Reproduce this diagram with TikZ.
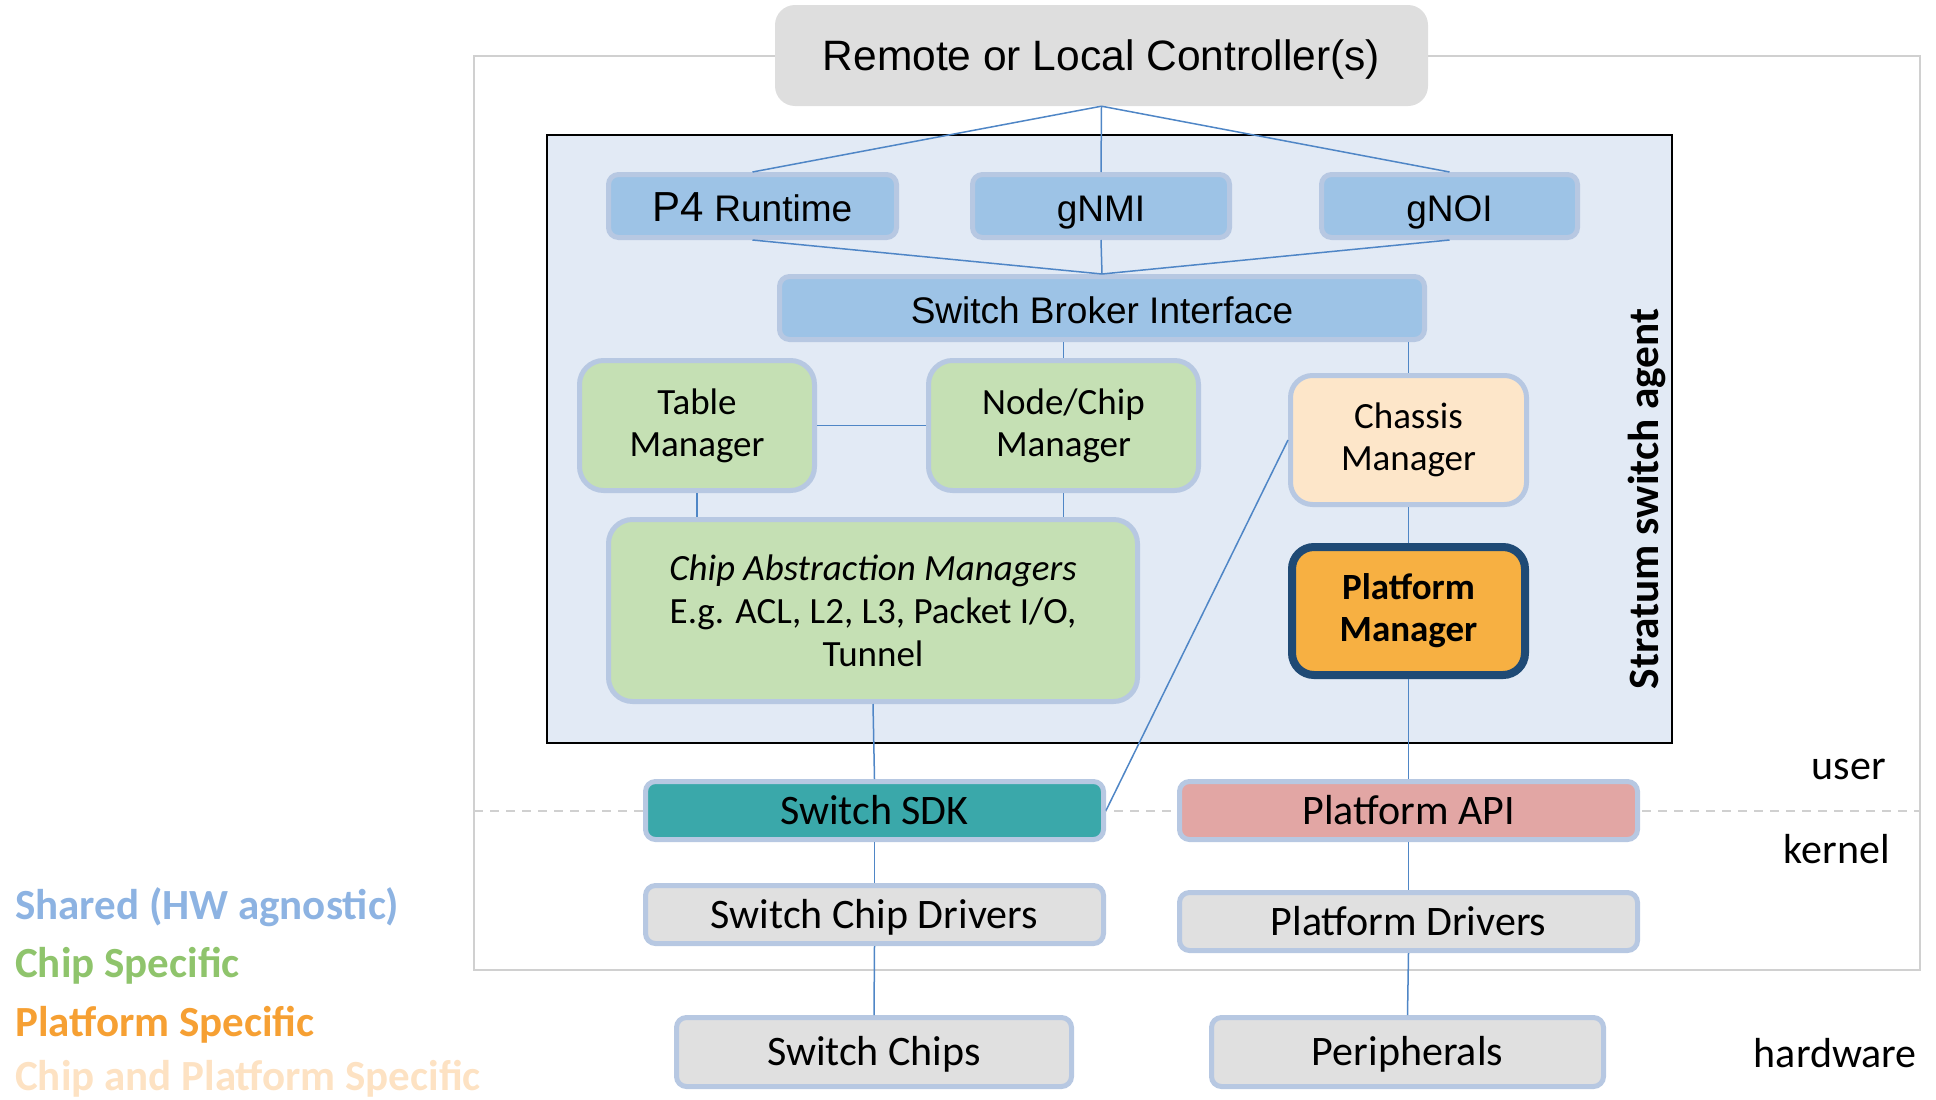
\documentclass[tikz,border=0pt]{standalone}
\usepackage{fontspec}
\setmainfont{Carlito}
\newfontfamily\arialfont{Liberation Sans}
\definecolor{agentbg}{HTML}{E2EAF5}
\definecolor{boxrim}{HTML}{B7C8E2}
\definecolor{blueface}{HTML}{9DC3E6}
\definecolor{greenface}{HTML}{C5E0B4}
\definecolor{peachface}{HTML}{FDE6C9}
\definecolor{orangeface}{HTML}{F7B042}
\definecolor{navyrim}{HTML}{1F4A75}
\definecolor{tealface}{HTML}{3AA8AA}
\definecolor{pinkface}{HTML}{E2A6A4}
\definecolor{grayface}{HTML}{E0E0E0}
\definecolor{ctrlface}{HTML}{DEDEDE}
\definecolor{linkblue}{HTML}{4F86C6}
\definecolor{frame}{HTML}{D0D0D0}
\definecolor{legblue}{HTML}{8DB3E2}
\definecolor{leggreen}{HTML}{8FC46C}
\definecolor{legorange}{HTML}{F6A033}
\definecolor{legpeach}{HTML}{FDE2C3}
\tikzset{
	strut_big/.style = {
		execute at begin node={\rule[-10.5pt]{0pt}{48pt}}
	},
	strut_mid/.style = {
		execute at begin node={\rule[-9.25pt]{0pt}{49pt}}
	},
	strut_two/.style = {
		execute at begin node={\rule{0pt}{40pt}}
	},
	box/.style = {
		align=center,
		inner sep=0pt,
		rounded corners=10pt,
		draw=boxrim,
		line width=5pt,
		text=black,
		font=\fontsize{37}{42}\selectfont
	},
	node_blue/.style = {
		box,
		strut_mid,
		fill=blueface,
		font=\arialfont\fontsize{37}{42}\selectfont
	},
	node_green/.style = {
		box,
		fill=greenface,
		rounded corners=24pt
	},
	node_peach/.style = {
		box,
		strut_two,
		fill=peachface,
		rounded corners=22pt
	},
	node_orange/.style = {
		box,
		execute at begin node={\rule{0pt}{47pt}},
		fill=orangeface,
		draw=navyrim,
		line width=8pt,
		rounded corners=22pt,
		font=\bfseries\fontsize{37}{42}\selectfont
	},
	node_low/.style = {
		box,
		strut_big,
		fill=grayface,
		font=\fontsize{42}{50}\selectfont
	},
	link/.style = {
		draw=linkblue,
		line width=1.5pt
	},
	legend/.style = {
		anchor=base west,
		inner sep=0pt,
		font=\bfseries\fontsize{43}{50}\selectfont
	},
	layer/.style = {
		anchor=base east,
		inner sep=0pt,
		font=\fontsize{42}{50}\selectfont
	},
}

\begin{document}
\begin{tikzpicture}[x=1pt,y=-1pt]
\useasboundingbox (0,0) rectangle (1936,1100);
% frame and user/kernel split
\draw[frame, line width=2.5pt] (474,56) rectangle (1920,970);
\draw[frame, line width=2pt, dash pattern=on 9pt off 7pt] (474,811) -- (1920,811);

\node [draw=black, line width=2.5pt, fill=agentbg, minimum width=1125pt, minimum height=608pt, inner sep=0pt] (agent) at (1109.5,439) {};
\node [fill=ctrlface, rounded corners=20pt, minimum width=653pt, minimum height=101pt, inner sep=0pt, font=\arialfont\fontsize{42.5}{50}\selectfont, execute at begin node={\rule[-10pt]{0pt}{50pt}}] (ctrl) at (1101.5,55.5) {Remote or Local Controller(s)};

% agent contents
\node [node_blue, minimum width=288pt, minimum height=63pt] (p4) at (752.5,206) {{\fontsize{42}{50}\selectfont P4} Runtime};
\node [node_blue, minimum width=257pt, minimum height=63pt] (gnmi) at (1101,206) {gNMI};
\node [node_blue, minimum width=256pt, minimum height=63pt] (gnoi) at (1449.5,206) {gNOI};
\node [node_blue, minimum width=645pt, minimum height=63pt] (broker) at (1102,308) {Switch Broker Interface};
\node [node_green, strut_two, minimum width=235pt, minimum height=130pt] (table) at (697,425.5) {Table\\Manager};
\node [node_green, strut_two, minimum width=270pt, minimum height=130pt] (nodechip) at (1063.5,425.5) {Node/Chip\\Manager};
\node [node_peach, minimum width=236pt, minimum height=129pt] (chassis) at (1408.5,440) {Chassis\\Manager};
\node [node_orange, minimum width=233pt, minimum height=128pt] (platmgr) at (1408.5,611) {Platform\\Manager};
\node [node_green, minimum width=529pt, minimum height=182pt, font=\fontsize{37}{43}\selectfont, execute at begin node={\rule{0pt}{30pt}}] (chipabs) at (873,610.5) {\itshape Chip Abstraction Managers\\E.g. ACL, L2, L3, Packet I/O,\\Tunnel};
\node [rotate=90, inner sep=0pt, font=\bfseries\fontsize{43.3}{50}\selectfont] (agentname) at (1647,499) {Stratum switch agent};

% below the agent
\node [node_low, fill=tealface, minimum width=458pt, minimum height=58pt] (sdk) at (874.5,810.5) {Switch SDK};
\node [node_low, fill=pinkface, minimum width=458pt, minimum height=58pt] (papi) at (1408.5,810.5) {Platform API};
\node [node_low, minimum width=458pt, minimum height=58pt] (chipdrv) at (874.5,914.5) {Switch Chip Drivers};
\node [node_low, minimum width=458pt, minimum height=58pt] (platdrv) at (1408.5,921.5) {Platform Drivers};
\node [node_low, minimum width=395pt, minimum height=69pt] (chips) at (874,1052) {Switch Chips};
\node [node_low, minimum width=392pt, minimum height=69pt] (periph) at (1407.5,1052) {Peripherals};

% links
\draw[link] (ctrl.south) -- (p4.north);
\draw[link] (ctrl.south) -- (gnmi.north);
\draw[link] (ctrl.south) -- (gnoi.north);
\draw[link] (p4.south) -- (broker.north);
\draw[link] (gnmi.south) -- (broker.north);
\draw[link] (gnoi.south) -- (broker.north);
\draw[link] (nodechip.north |- broker.south) -- (nodechip.north);
\draw[link] (chassis.north |- broker.south) -- (chassis.north);
\draw[link] (table.east) -- (nodechip.west);
\draw[link] (table.south) -- (table.south |- chipabs.north);
\draw[link] (nodechip.south) -- (nodechip.south |- chipabs.north);
\draw[link] (chassis.south) -- (platmgr.north);
\draw[link] (chassis.west) -- (sdk.east);
\draw[link] (chipabs.south) -- (sdk.north);
\draw[link] (platmgr.south) -- (papi.north);
\draw[link] (sdk.south) -- (chipdrv.north);
\draw[link] (chipdrv.south) -- (chips.north);
\draw[link] (papi.south) -- (platdrv.north);
\draw[link] (platdrv.south) -- (periph.north);

% layer names
\node [layer] (user) at (1886,779) {user};
\node [layer] (kernel) at (1890,863) {kernel};
\node [layer] (hw) at (1917,1067) {hardware};

% legend
\node [legend, text=legblue] (leg1) at (15,919.5) {Shared (HW agnostic)};
\node [legend, text=leggreen] (leg2) at (15,977.5) {Chip Specific};
\node [legend, text=legorange] (leg3) at (15,1036.5) {Platform Specific};
\node [legend, text=legpeach] (leg4) at (15,1090.5) {Chip and Platform Specific};
\end{tikzpicture}
\end{document}
